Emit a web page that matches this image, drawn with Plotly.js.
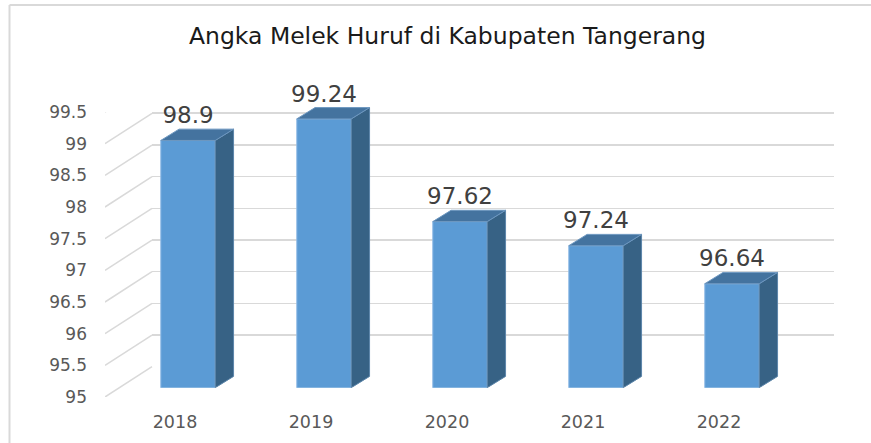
<!DOCTYPE html>
<html>
<head>
<meta charset="utf-8">
<script src="https://cdn.plot.ly/plotly-3.0.1.min.js"></script>
<style>html,body{margin:0;padding:0;background:#fff}#c{width:871px;height:443px}</style>
</head>
<body>
<div id="c"></div>
<script>
const years = ["2018", "2019", "2020", "2021", "2022"];
const values = [98.9, 99.24, 97.62, 97.24, 96.64];
const valueLabels = ["98.9", "99.24", "97.62", "97.24", "96.64"];
const tickValues = [95, 95.5, 96, 96.5, 97, 97.5, 98, 98.5, 99, 99.5];
const tickLabels = ["95", "95.5", "96", "96.5", "97", "97.5", "98", "98.5", "99", "99.5"];

const W = 871, H = 443;
const slot = 136, firstCenter = 188, barWidthPx = 54.5, unit = 63.4;
const barBase = 387.7, depthX = 18.3, depthY = 11.3;
const fx = px => px / W, fy = px => 1 - px / H;
const index = years.map((_, i) => i);
const w = barWidthPx / slot, dx = depthX / slot, dy = depthY / unit;
const base = tickValues[0];

function polys(corners) {
  const xs = [], ys = [];
  index.forEach(i => {
    corners(i, values[i]).forEach(p => { xs.push(p[0]); ys.push(p[1]); });
    xs.push(null); ys.push(null);
  });
  return {x: xs, y: ys};
}
const side = polys((i, v) => [[i + w/2, base], [i + w/2 + dx, base + dy], [i + w/2 + dx, v + dy], [i + w/2, v], [i + w/2, base]]);
const top_ = polys((i, v) => [[i - w/2, v], [i + w/2, v], [i + w/2 + dx, v + dy], [i - w/2 + dx, v + dy], [i - w/2, v]]);

const leftX = (105 - firstCenter) / slot, backX = (152 - firstCenter) / slot;
const diagX = [], diagY = [];
tickValues.forEach(v => { diagX.push(leftX, backX, null); diagY.push(v, v + 30.3 / 63.3, null); });

const traces = [
  {type: "scatter", mode: "lines", x: [0], y: [null], xaxis: "x", yaxis: "y", showlegend: false, hoverinfo: "skip"},
  {type: "bar", x: index, y: values, width: w, xaxis: "x2", yaxis: "y2", showlegend: false,
   marker: {color: "#5b9bd5", line: {color: "#93bde6", width: 1}}},
  {type: "scatter", mode: "lines", x: side.x, y: side.y, xaxis: "x2", yaxis: "y2", fill: "toself", fillcolor: "#376285",
   line: {color: "#5d86aa", width: 1}, showlegend: false, hoverinfo: "skip"},
  {type: "scatter", mode: "lines", x: top_.x, y: top_.y, xaxis: "x2", yaxis: "y2", fill: "toself", fillcolor: "#44739f",
   line: {color: "#6d97c0", width: 1}, showlegend: false, hoverinfo: "skip"},
  {type: "scatter", mode: "text", x: index, y: values.map(v => v + 23 / unit), text: valueLabels, textposition: "middle center",
   textfont: {family: "DejaVu Sans", size: 23, color: "#404040"}, xaxis: "x2", yaxis: "y2", showlegend: false, cliponaxis: false, hoverinfo: "skip"},
  {type: "scatter", mode: "lines", x: diagX, y: diagY, xaxis: "x2", yaxis: "y3", line: {color: "#d9d9d9", width: 1.5},
   showlegend: false, cliponaxis: false, hoverinfo: "skip"}
];

const layout = {
  width: W, height: H, margin: {l: 0, r: 0, t: 0, b: 0, pad: 0},
  paper_bgcolor: "#ffffff", plot_bgcolor: "rgba(0,0,0,0)", showlegend: false, bargap: 0,
  title: {text: "Angka Melek Huruf di Kabupaten Tangerang", x: 447.5 / W, xanchor: "center", y: fy(36), yanchor: "middle",
          font: {family: "DejaVu Sans", size: 23.5, color: "#1a1a1a"}},
  // back wall: gridlines, and the category labels
  xaxis: {domain: [fx(152), fx(834)], range: [(152 - 175) / slot, (834 - 175) / slot], anchor: "free", position: fy(409),
          side: "bottom", showgrid: false, zeroline: false, showline: false, ticks: "",
          tickmode: "array", tickvals: index, ticktext: years, tickfont: {family: "DejaVu Sans", size: 17.5, color: "#595959"}, fixedrange: true},
  yaxis: {domain: [fy(366.7), fy(81.5)], range: [95, 99.5], anchor: "x", showgrid: true, gridcolor: "#d9d9d9", gridwidth: 1.5,
          zeroline: false, showline: false, ticks: "", showticklabels: false, tickmode: "array", tickvals: tickValues, fixedrange: true},
  // front plane: the bars
  xaxis2: {domain: [fx(105), fx(834)], range: [(105 - firstCenter) / slot, (834 - firstCenter) / slot], anchor: "y2", visible: false, fixedrange: true},
  yaxis2: {domain: [fy(barBase), fy(60)], range: [base, base + (barBase - 60) / unit], anchor: "x2", visible: false, fixedrange: true},
  // left edge: value labels and the floor ticks
  yaxis3: {domain: [fy(397), fy(112)], range: [95, 99.5], anchor: "free", position: fx(87), side: "left", showgrid: false, zeroline: false,
           showline: false, ticks: "", tickmode: "array", tickvals: tickValues, ticktext: tickLabels,
           tickfont: {family: "DejaVu Sans", size: 17, color: "#595959"}, fixedrange: true},
  shapes: [
    {type: "line", xref: "paper", yref: "paper", x0: fx(9.5), x1: fx(871), y0: fy(5), y1: fy(5), line: {color: "#d9d9d9", width: 2}},
    {type: "line", xref: "paper", yref: "paper", x0: fx(9.5), x1: fx(9.5), y0: fy(5), y1: fy(443), line: {color: "#d9d9d9", width: 2}}
  ]
};
Plotly.newPlot("c", traces, layout, {displayModeBar: false, staticPlot: true});
</script>
</body>
</html>
